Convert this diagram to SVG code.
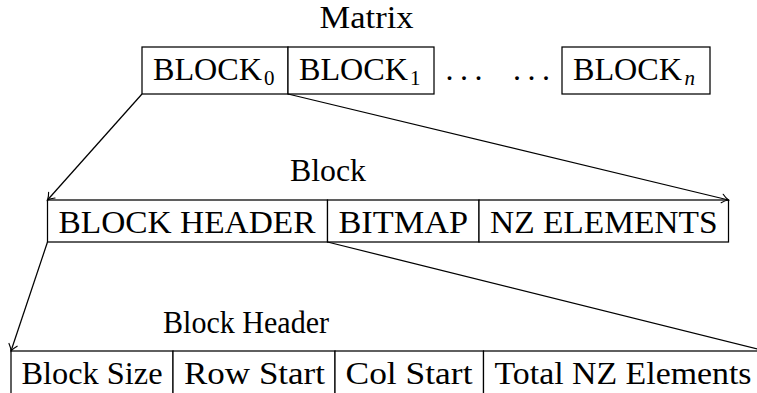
<svg xmlns="http://www.w3.org/2000/svg" width="757" height="393" viewBox="0 0 757 393">
  <style>
    .box { fill: #ffffff; stroke: #000000; stroke-width: 1.25; }
    .lbl { font-size: 32px; fill: #000000; }
    .sub { font-size: 21px; fill: #000000; }
    .subi { font-style: italic; }
    .edge { fill: none; stroke: #000000; stroke-width: 1.25; }
  </style>
  <defs>
    <marker id="tip" markerUnits="userSpaceOnUse" markerWidth="12" markerHeight="12" viewBox="-9 -6 10 12" refX="0" refY="0" orient="auto">
      <path d="M-6.5,-4.3 C-4,-2 -1.6,-0.6 0,0 C-1.6,0.6 -4,2 -6.5,4.3" fill="none" stroke="#000000" stroke-width="1.15" stroke-linecap="round"/>
    </marker>
  </defs>

  <rect width="757" height="393" fill="#ffffff"/>

  <g font-family="Liberation Serif, DejaVu Serif, serif">
    <!-- section titles -->
    <text id="title-matrix" class="lbl" x="319.5" y="28" textLength="94" lengthAdjust="spacingAndGlyphs">Matrix</text>
    <text id="title-block" class="lbl" x="290" y="181" textLength="76" lengthAdjust="spacingAndGlyphs">Block</text>
    <text id="title-header" class="lbl" x="163" y="333" textLength="166" lengthAdjust="spacingAndGlyphs">Block Header</text>

    <!-- matrix row -->
    <g id="block0">
      <rect class="box" x="142" y="47" width="146" height="47"/>
      <text class="lbl" x="153" y="80" textLength="109" lengthAdjust="spacingAndGlyphs">BLOCK</text>
      <text class="sub" x="264" y="84.5">0</text>
    </g>
    <g id="block1">
      <rect class="box" x="288" y="47" width="146" height="47"/>
      <text class="lbl" x="299" y="80" textLength="109" lengthAdjust="spacingAndGlyphs">BLOCK</text>
      <text class="sub" x="410" y="84.5">1</text>
    </g>
    <g id="dots1">
      <text class="lbl" x="445.5" y="80" letter-spacing="6.5">...</text>
    </g>
    <g id="dots2">
      <text class="lbl" x="513" y="80" letter-spacing="6.5">...</text>
    </g>
    <g id="blockn">
      <rect class="box" x="562" y="47" width="148" height="47"/>
      <text class="lbl" x="573" y="80" textLength="109" lengthAdjust="spacingAndGlyphs">BLOCK</text>
      <text class="sub subi" x="684.5" y="84.5">n</text>
    </g>

    <!-- block row -->
    <g id="block-header">
      <rect class="box" x="47.5" y="200" width="280" height="42"/>
      <text class="lbl" x="58.5" y="232.5" textLength="257" lengthAdjust="spacingAndGlyphs">BLOCK HEADER</text>
    </g>
    <g id="bitmap">
      <rect class="box" x="327.5" y="200" width="151.5" height="42"/>
      <text class="lbl" x="338.5" y="232.5" textLength="129.5" lengthAdjust="spacingAndGlyphs">BITMAP</text>
    </g>
    <g id="nz-elements">
      <rect class="box" x="479" y="200" width="249.5" height="42"/>
      <text class="lbl" x="490" y="232.5" textLength="227.5" lengthAdjust="spacingAndGlyphs">NZ ELEMENTS</text>
    </g>

    <!-- block header row -->
    <g id="block-size">
      <rect class="box" x="11" y="351" width="162" height="44"/>
      <text class="lbl" x="21.5" y="384.3" textLength="141" lengthAdjust="spacingAndGlyphs">Block Size</text>
    </g>
    <g id="row-start">
      <rect class="box" x="173" y="351" width="162" height="44"/>
      <text class="lbl" x="184" y="384.3" textLength="141" lengthAdjust="spacingAndGlyphs">Row Start</text>
    </g>
    <g id="col-start">
      <rect class="box" x="335" y="351" width="148.5" height="44"/>
      <text class="lbl" x="345.5" y="384.3" textLength="127" lengthAdjust="spacingAndGlyphs">Col Start</text>
    </g>
    <g id="total-nz">
      <rect class="box" x="483.5" y="351" width="282" height="44"/>
      <text class="lbl" x="494.5" y="384.3" textLength="257" lengthAdjust="spacingAndGlyphs">Total NZ Elements</text>
    </g>
  </g>

  <!-- connectors -->
  <g id="connectors">
    <line class="edge" x1="142" y1="94" x2="47.5" y2="200" marker-end="url(#tip)"/>
    <line class="edge" x1="288" y1="94" x2="728.5" y2="200" marker-end="url(#tip)"/>
    <line class="edge" x1="47.5" y1="242" x2="11" y2="351" marker-end="url(#tip)"/>
    <line class="edge" x1="327.5" y1="242" x2="765.5" y2="351" marker-end="url(#tip)"/>
  </g>
</svg>
